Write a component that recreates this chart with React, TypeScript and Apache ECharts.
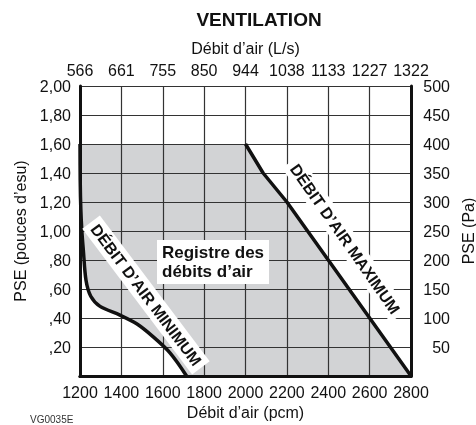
import React, { useEffect, useRef } from "react";
import * as echarts from "echarts";

const xTicksPcm = [1200, 1400, 1600, 1800, 2000, 2200, 2400, 2600, 2800];
const xTicksLs = ["566", "661", "755", "850", "944", "1038", "1133", "1227", "1322"];
const minCurve: [number, number][] = [
  [1200, 1.6], [1201, 1.35], [1204, 1.15], [1209, 1.0], [1216, 0.87],
  [1229, 0.66], [1252, 0.55], [1297, 0.48], [1393, 0.42], [1474, 0.36],
  [1554, 0.27], [1635, 0.16], [1715, 0],
];
const maxCurve: [number, number][] = [
  [2000, 1.6], [2085, 1.4], [2200, 1.2], [2800, 0],
];
const regionTop = 1.6;

const FONT = "Liberation Sans, Arial, Helvetica, sans-serif";

export default function App() {
  const ref = useRef<HTMLDivElement>(null);
  useEffect(() => {
    if (!ref.current) return;
    const chart = echarts.init(ref.current, undefined, { renderer: "svg" });
    const regionPoly: [number, number][] = [
      ...minCurve.slice().reverse(),
      [2000, regionTop],
      ...maxCurve.slice(1),
    ];
    const leftFmt = (v: number) => {
      if (Math.abs(v) < 1e-9) return "";
      const s = v.toFixed(2).replace(".", ",");
      return v < 1 ? s.replace(/^0/, "") : s;
    };
    chart.setOption({
      animation: false,
      textStyle: { fontFamily: FONT },
      title: {
        text: "VENTILATION",
        left: 254,
        top: 5,
        textAlign: "center",
        textStyle: { fontSize: 19, fontWeight: "bold", color: "#111", fontFamily: FONT },
      },
      grid: { left: 80, right: 65, top: 86, bottom: 49, containLabel: false, outerBoundsMode: "none" },
      xAxis: [
        {
          type: "value",
          min: 1200,
          max: 2800,
          interval: 200,
          position: "bottom",
          z: 2,
          name: "Débit d’air (pcm)",
          nameLocation: "middle",
          nameGap: 27,
          nameTextStyle: { fontSize: 16, color: "#111", fontFamily: FONT },
          axisLine: { lineStyle: { color: "#111", width: 3 } },
          axisTick: { show: false },
          axisLabel: {
            fontSize: 16,
            color: "#111",
            margin: 8,
            fontFamily: FONT,
            formatter: (v: number) => String(v),
          },
          splitLine: { show: true, lineStyle: { color: "#333", width: 1.2 } },
        },
        {
          type: "value",
          min: 1200,
          max: 2800,
          interval: 200,
          position: "top",
          z: 2,
          name: "Débit d’air (L/s)",
          nameLocation: "middle",
          nameGap: 30,
          nameTextStyle: { fontSize: 16, color: "#111", fontFamily: FONT },
          axisLine: { lineStyle: { color: "#111", width: 3 } },
          axisTick: { show: false },
          axisLabel: {
            fontSize: 16,
            color: "#111",
            margin: 8,
            fontFamily: FONT,
            formatter: (v: number) => xTicksLs[Math.round((v - xTicksPcm[0]) / 200)] ?? "",
          },
          splitLine: { show: false },
        },
      ],
      yAxis: [
        {
          type: "value",
          min: 0,
          max: 2,
          interval: 0.2,
          position: "left",
          z: 2,
          name: "PSE (pouces d’esu)",
          nameLocation: "middle",
          nameGap: 51,
          nameRotate: 90,
          nameTextStyle: { fontSize: 16, color: "#111", fontFamily: FONT },
          axisLine: { show: true, lineStyle: { color: "#111", width: 3 } },
          axisTick: { show: false },
          axisLabel: { fontSize: 16, color: "#111", margin: 9, fontFamily: FONT, formatter: leftFmt },
          splitLine: { show: true, lineStyle: { color: "#333", width: 1.2 } },
        },
        {
          type: "value",
          min: 0,
          max: 500,
          interval: 50,
          position: "right",
          z: 2,
          name: "PSE (Pa)",
          nameLocation: "middle",
          nameGap: 48,
          nameRotate: 90,
          nameTextStyle: { fontSize: 16, color: "#111", fontFamily: FONT },
          axisLine: { show: true, lineStyle: { color: "#111", width: 3 } },
          axisTick: { show: false },
          axisLabel: {
            fontSize: 16,
            color: "#111",
            margin: 39,
            align: "right",
            fontFamily: FONT,
            formatter: (v: number) => (v === 0 ? "" : String(v)),
          },
          splitLine: { show: false },
        },
      ],
      series: [
        {
          type: "custom",
          z: 1,
          xAxisIndex: 0,
          yAxisIndex: 0,
          data: [[1200, 0]],
          renderItem: (_params: any, api: any) => ({
            type: "polygon",
            shape: { points: regionPoly.map((p) => api.coord(p)) },
            style: { fill: "#d2d3d5" },
          }),
          silent: true,
        },
        {
          type: "line",
          z: 3,
          xAxisIndex: 0,
          yAxisIndex: 0,
          data: minCurve,
          smooth: 0.3,
          showSymbol: false,
          lineStyle: { color: "#111", width: 3.5 },
          silent: true,
        },
        {
          type: "line",
          z: 3,
          xAxisIndex: 0,
          yAxisIndex: 0,
          data: maxCurve,
          showSymbol: false,
          lineStyle: { color: "#111", width: 3.5 },
          silent: true,
        },
      ],
      graphic: [
        {
          type: "text",
          x: 146,
          y: 295,
          rotation: (-53 * Math.PI) / 180,
          z: 100,
          style: {
            text: "DÉBIT D’AIR MINIMUM",
            font: `bold 16px ${FONT}`,
            fill: "#111",
            align: "center",
            verticalAlign: "middle",
            backgroundColor: "#fff",
            padding: [3, 5],
          },
        },
        {
          type: "text",
          x: 345,
          y: 239,
          rotation: (-55 * Math.PI) / 180,
          z: 100,
          style: {
            text: "DÉBIT D’AIR MAXIMUM",
            font: `bold 16px ${FONT}`,
            fill: "#111",
            align: "center",
            verticalAlign: "middle",
            backgroundColor: "#fff",
            padding: [3, 5],
          },
        },
        {
          type: "text",
          x: 157,
          y: 240,
          z: 100,
          style: {
            text: "Registre des\ndébits d’air",
            font: `bold 17px ${FONT}`,
            lineHeight: 19,
            fill: "#111",
            backgroundColor: "#fff",
            padding: [3, 5],
          },
        },
        {
          type: "text",
          x: 30,
          y: 414,
          z: 100,
          style: { text: "VG0035E", font: `10px ${FONT}`, fill: "#333" },
        },
      ],
    });
    return () => chart.dispose();
  }, []);
  return (
    <div
      ref={ref}
      style={{ position: "fixed", left: 0, top: 0, width: 476, height: 425 }}
    />
  );
}
